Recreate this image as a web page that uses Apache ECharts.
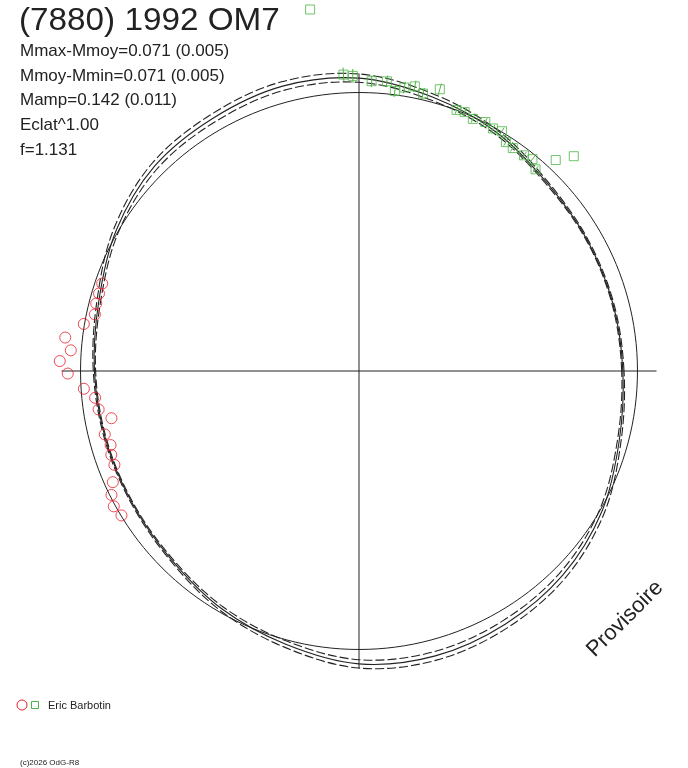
<!DOCTYPE html>
<html>
<head>
<meta charset="utf-8">
<script src="https://cdn.jsdelivr.net/npm/echarts@6/dist/echarts.min.js"></script>
<style>
html,body{margin:0;padding:0;background:#fff;}
#main{width:688px;height:768px;}
</style>
</head>
<body>
<div id="main"></div>
<script>
// phase angle (deg) of the model curves (closed loop, 0 = 360)
var phase = [0,15,30,45,60,75,90,105,120,135,150,165,180,195,210,225,240,255,270,285,300,315,330,345];
// mean level circle (mag offset)
var meanDm = [0,0,0,0,0,0,0,0,0,0,0,0,0,0,0,0,0,0,0,0,0,0,0,0];
// fitted light curve and its envelope (mag offset from mean)
var fitDm   = [-0.063,-0.068,-0.066,-0.054,-0.013,0.022,0.062,0.071,0.058,0.047,0.009,-0.039,-0.060,-0.069,-0.069,-0.054,-0.017,0.019,0.062,0.071,0.060,0.043,0.009,-0.039];
var fitHigh = [-0.058,-0.064,-0.062,-0.048,-0.003,0.036,0.080,0.090,0.076,0.063,0.021,-0.031,-0.055,-0.065,-0.065,-0.048,-0.007,0.033,0.080,0.090,0.078,0.059,0.021,-0.031];
var fitLow  = [-0.068,-0.072,-0.070,-0.060,-0.023,0.008,0.044,0.052,0.040,0.031,-0.003,-0.047,-0.065,-0.073,-0.073,-0.060,-0.027,0.005,0.044,0.052,0.042,0.027,-0.003,-0.047];

// session 1 (red circles)
var redPhase = [161.2,163.4,165.6,167.9,170.3,173.5,175.9,178.1,180.5,183.7,185.8,188.4,190.8,194.0,196.6,198.7,201.0,204.3,206.6,208.9,211.3];
var redDm    = [-0.031,-0.031,-0.031,-0.036,0.003,0.074,0.045,0.090,0.055,-0.012,-0.057,-0.066,-0.114,-0.071,-0.083,-0.073,-0.071,-0.036,-0.007,0.007,-0.002];
// session 2 (green squares) with error bars
var greenPhase = [93.0,91.2,87.5,84.5,82.7,80.9,78.9,77.0,74.0,69.5,67.8,65.7,63.1,61.1,59.2,57.3,55.4,52.6,50.7,48.8,47.0,45.0,97.7];
var greenDm    = [0.079,0.072,0.050,0.054,0.016,0.037,0.050,0.027,0.063,0.001,0.005,-0.008,0.003,-0.006,0.003,-0.028,-0.033,-0.030,-0.020,-0.045,0.043,0.109,0.372];
var greenErr   = [0.030,0.030,0.025,0.025,0.025,0.025,0.025,0.025,0.025,0.018,0.018,0.018,0.018,0.018,0.018,0.018,0.018,0.018,0.018,0.018,0,0,0];

var statLines = ['Mmax-Mmoy=0.071 (0.005)','Mmoy-Mmin=0.071 (0.005)','Mamp=0.142 (0.011)','Eclat^1.00','f=1.131'];

var FONT = '"Liberation Sans", Arial, sans-serif';

function pairs(r, a){
    var out = [];
    for(var i=0;i<r.length;i++){ out.push([r[i], a[i]]); }
    return out;
}

// closed smooth curve through the readings, placed with the polar scales
function loopSeries(vals, dash, width){
    return {
        type:'custom', coordinateSystem:'polar', data:pairs(vals, phase), silent:true,
        renderItem:function(params, api){
            if(params.dataIndex !== 0) return null;
            var pts = [];
            for(var i=0;i<vals.length;i++){ pts.push(api.coord([vals[i], phase[i]])); }
            return {
                type:'polygon',
                shape:{points:pts, smooth:0.34},
                style:{fill:null, stroke:'#222', lineWidth:width, lineDash:dash}
            };
        }
    };
}

var myChart = echarts.init(document.getElementById('main'), null, {renderer:'canvas'});

var graphics = [
    {type:'text', x:19, y:21.5, scaleX:1.04, style:{text:'(7880) 1992 OM7', font:'32px '+FONT, fill:'#222', textVerticalAlign:'middle'}},
    {type:'text', x:625, y:619, rotation:Math.PI/4, style:{text:'Provisoire', font:'22px '+FONT, fill:'#222', textAlign:'center', textVerticalAlign:'middle'}},
    {type:'circle', shape:{cx:22, cy:705, r:5}, style:{fill:'none', stroke:'#e8202a', lineWidth:1}},
    {type:'rect', shape:{x:31.5, y:701.5, width:7, height:7}, style:{fill:'none', stroke:'#4cb543', lineWidth:1}},
    {type:'text', x:48, y:706, scaleX:1.1, style:{text:'Eric Barbotin', font:'10px '+FONT, fill:'#222', textVerticalAlign:'middle'}},
    {type:'text', x:20, y:763, style:{text:'(c)2026 OdG-R8', font:'8px '+FONT, fill:'#222', textVerticalAlign:'middle'}}
];
for(var i=0;i<statLines.length;i++){
    graphics.push({type:'text', x:20, y:51.3 + i*24.7, style:{text:statLines[i], font:'17px '+FONT, fill:'#222', textVerticalAlign:'middle'}});
}

myChart.setOption({
    animation:false,
    backgroundColor:'#fff',
    polar:{center:[359,371], radius:297.5},
    angleAxis:{
        type:'value', min:0, max:360, interval:90, startAngle:0, clockwise:false,
        axisLine:{show:false}, axisTick:{show:false}, axisLabel:{show:false},
        splitLine:{show:true, lineStyle:{color:'#222', width:1}}
    },
    radiusAxis:{
        type:'value', min:-1.2, max:0.082,
        axisLine:{show:false}, axisTick:{show:false}, axisLabel:{show:false}, splitLine:{show:false}
    },
    graphic:graphics,
    series:[
        loopSeries(meanDm, null, 1),
        loopSeries(fitDm, null, 1.1),
        loopSeries(fitHigh, [9,3], 1.1),
        loopSeries(fitLow, [9,3], 1.1),
        {
            type:'custom', coordinateSystem:'polar', silent:true,
            data:greenDm.map(function(v,i){ return [v, greenPhase[i], greenErr[i]]; }),
            renderItem:function(params, api){
                var e = api.value(2);
                if(!e) return null;
                var p0 = api.coord([api.value(0) - e, api.value(1)]);
                var p1 = api.coord([api.value(0) + e, api.value(1)]);
                return {type:'line', shape:{x1:p0[0], y1:p0[1], x2:p1[0], y2:p1[1]}, style:{stroke:'#4cb543', lineWidth:1}};
            }
        },
        {type:'scatter', coordinateSystem:'polar', data:pairs(redDm, redPhase), symbol:'circle', symbolSize:11, clip:false,
         itemStyle:{color:'rgba(0,0,0,0)', borderColor:'#e8202a', borderWidth:1}},
        {type:'scatter', coordinateSystem:'polar', data:pairs(greenDm, greenPhase), symbol:'rect', symbolSize:9, clip:false,
         itemStyle:{color:'rgba(0,0,0,0)', borderColor:'#4cb543', borderWidth:1}}
    ]
});
</script>
</body>
</html>
